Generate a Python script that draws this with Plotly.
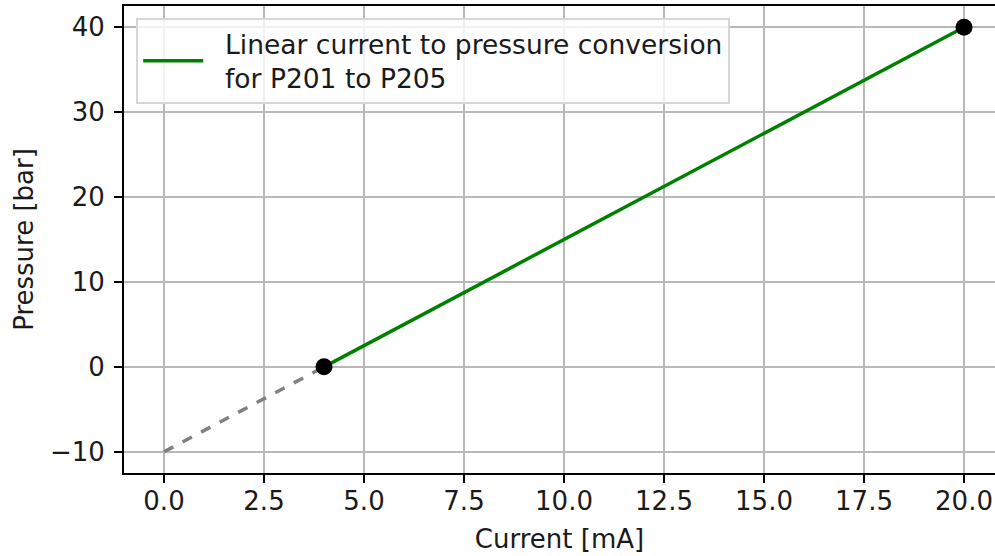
import plotly.graph_objects as go

current_line = [4, 20]
pressure_line = [0, 40]
current_ext = [0, 4]
pressure_ext = [-10, 0]
current_pts = [4, 20]
pressure_pts = [0, 40]
x_ticks = [0.0, 2.5, 5.0, 7.5, 10.0, 12.5, 15.0, 17.5, 20.0]
y_ticks = [-10, 0, 10, 20, 30, 40]

font = "DejaVu Sans"
sp = "\u00a0\u00a0"
fig = go.Figure()
fig.add_trace(go.Scatter(x=current_ext, y=pressure_ext, mode="lines",
                         line=dict(color="gray", width=3.5, dash="dash"), showlegend=False))
fig.add_trace(go.Scatter(x=current_line, y=pressure_line, mode="lines",
                         line=dict(color="green", width=3.5),
                         name=sp + "Linear current to pressure conversion<br>" + sp + "for P201 to P205"))
fig.add_trace(go.Scatter(x=current_pts, y=pressure_pts, mode="markers",
                         marker=dict(color="black", size=17), showlegend=False))

fig.update_layout(
    width=995, height=556,
    margin=dict(l=124, r=0, t=6, b=83),
    plot_bgcolor="white", paper_bgcolor="white",
    font=dict(family=font, size=26, color="#1a1a1a"),
    legend=dict(x=0.014, y=0.975, xanchor="left", yanchor="top",
                bgcolor="rgba(255,255,255,0.8)", bordercolor="#d6d6d6", borderwidth=2,
                font=dict(size=26.5), itemwidth=60, tracegroupgap=0),
    xaxis=dict(range=[-1, 20.775], tickvals=x_ticks, ticktext=[f"{v:.1f}" for v in x_ticks],
               showgrid=True, gridcolor="#b8b8b8", gridwidth=2,
               showline=True, linecolor="black", linewidth=2, mirror=True,
               ticks="outside", ticklen=8, tickwidth=2, tickcolor="black",
               ticklabelstandoff=-4,
               zeroline=False,
               title=dict(text="Current [mA]", standoff=15, font=dict(size=26))),
    yaxis=dict(range=[-12.5, 42.5], tickvals=y_ticks, ticktext=["\u221210", "0", "10", "20", "30", "40"],
               showgrid=True, gridcolor="#b8b8b8", gridwidth=2,
               showline=True, linecolor="black", linewidth=2,
               ticks="outside", ticklen=8, tickwidth=2, tickcolor="black",
               ticklabelstandoff=4,
               zeroline=False,
               title=dict(text="Pressure [bar]", standoff=9, font=dict(size=26))),
)
fig.write_html("out.html")
